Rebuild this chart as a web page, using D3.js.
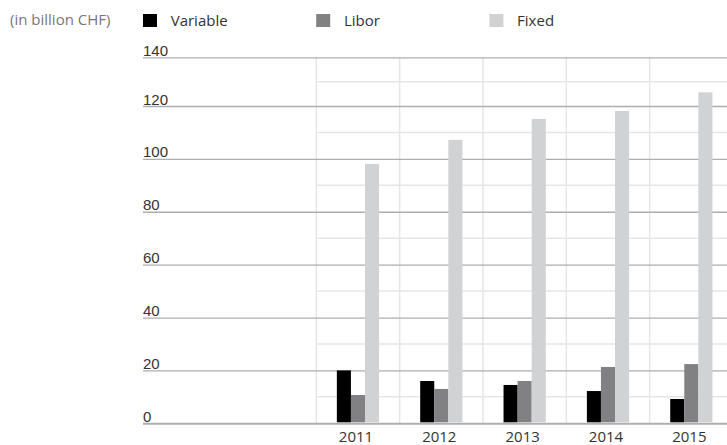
<!DOCTYPE html>
<html>
<head>
<meta charset="utf-8">
<script src="https://cdn.jsdelivr.net/npm/d3@7/dist/d3.min.js"></script>
<style>
  html, body { margin: 0; padding: 0; background: #fff; }
  svg { display: block; font-family: "Open Sans", "Noto Sans", sans-serif; }
</style>
</head>
<body>
<svg id="chart" width="727" height="445"></svg>
<script>
// Mortgage volume by interest type (in billion CHF)
const years = ["2011", "2012", "2013", "2014", "2015"];
const seriesNames = ["Variable", "Libor", "Fixed"];
const variableValues = [20.0, 16.0, 14.5, 12.2, 9.2];
const liborValues = [10.7, 13.0, 16.0, 21.3, 22.4];
const fixedValues = [98.1, 107.2, 115.1, 118.1, 125.6];
const majorTicks = [0, 20, 40, 60, 80, 100, 120, 140];
const minorTicks = [10, 30, 50, 70, 90, 110, 130];
const unitLabel = "(in billion CHF)";

const colors = { Variable: "#000000", Libor: "#818184", Fixed: "#d1d2d4" };
const valuesBySeries = { Variable: variableValues, Libor: liborValues, Fixed: fixedValues };

const svg = d3.select("#chart");
const axisLeft = 143, axisRight = 727;
const fontSize = "15px";

const y = d3.scaleLinear().domain([0, 120, 140]).range([423.3, 106, 57.3]);
const x0 = d3.scaleBand().domain(years).range([316.3, 733]).padding(0);
const x1 = d3.scaleBand().domain(seriesNames).range([0, x0.bandwidth()])
  .paddingInner(0).paddingOuter(1.46);

// light minor gridlines in the data area
svg.append("g").selectAll("line").data(minorTicks).join("line")
  .attr("x1", x0.range()[0]).attr("x2", axisRight)
  .attr("y1", d => y(d)).attr("y2", d => y(d))
  .attr("stroke", "#e6e6e7").attr("stroke-width", 1.5);

// vertical separators between years
svg.append("g").selectAll("line").data(years).join("line")
  .attr("x1", d => x0(d)).attr("x2", d => x0(d))
  .attr("y1", y(140)).attr("y2", y(0))
  .attr("stroke", "#e6e6e7").attr("stroke-width", 1.5);

// major gridlines with labels sitting on top of them
const yAxis = svg.append("g")
  .attr("transform", `translate(${axisLeft},0)`)
  .call(d3.axisRight(y).tickValues(majorTicks).tickSize(axisRight - axisLeft).tickFormat(d3.format("d")));
yAxis.select(".domain").remove();
yAxis.selectAll(".tick line")
  .attr("stroke", "#aeaeb0")
  .attr("stroke-width", d => d === 0 ? 2 : 1.3);
yAxis.selectAll(".tick text")
  .attr("x", 0).attr("y", -2).attr("dy", 0)
  .attr("text-anchor", "start")
  .attr("fill", "#333")
  .style("font-size", fontSize);

// grouped bars
const groups = svg.append("g").selectAll("g").data(years).join("g")
  .attr("transform", d => `translate(${x0(d)},0)`);
groups.selectAll("rect")
  .data((yr, i) => seriesNames.map(s => ({ s, v: valuesBySeries[s][i] })))
  .join("rect")
  .attr("x", d => x1(d.s))
  .attr("width", x1.bandwidth())
  .attr("y", d => y(d.v))
  .attr("height", d => y(0) - 1 - y(d.v))
  .attr("fill", d => colors[d.s]);

// year labels
svg.append("g").selectAll("text").data(years).join("text")
  .attr("x", d => x0(d) + x0.bandwidth() / 2 - 2)
  .attr("y", 442)
  .attr("text-anchor", "middle")
  .attr("fill", "#333")
  .style("font-size", fontSize)
  .text(d => d);

// unit label
svg.append("text")
  .attr("x", 10).attr("y", 25)
  .attr("fill", "#777")
  .style("font-size", fontSize)
  .text(unitLabel);

// legend
const legend = svg.append("g").selectAll("g").data(seriesNames).join("g")
  .attr("transform", (d, i) => `translate(${143 + i * 173.2},0)`);
legend.append("rect")
  .attr("x", 0).attr("y", 14).attr("width", 14).attr("height", 13)
  .attr("fill", d => colors[d]);
legend.append("text")
  .attr("x", 27.7).attr("y", 25.5)
  .attr("fill", "#333")
  .style("font-size", fontSize)
  .text(d => d);
</script>
</body>
</html>
